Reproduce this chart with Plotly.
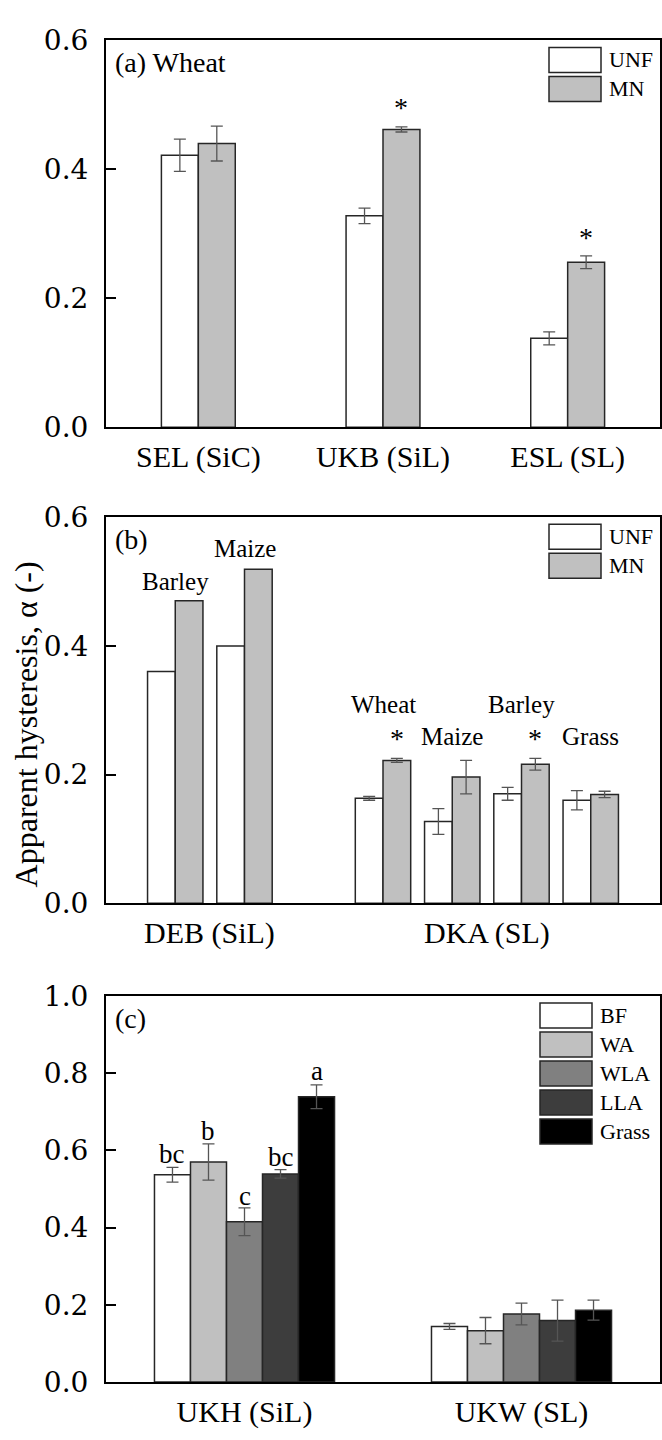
import plotly.graph_objects as go

W, H = 662, 1440

# ---------------- data ----------------
# (a) Wheat
a_sites = ["SEL (SiC)", "UKB (SiL)", "ESL (SL)"]
a_unf = [0.422, 0.328, 0.138]
a_unf_err = [0.025, 0.012, 0.010]
a_mn = [0.440, 0.462, 0.256]
a_mn_err = [0.027, 0.004, 0.010]
a_star = ["", "*", "*"]
a_star_y = [0.0, 0.496, 0.294]

# (b)
b_site = ["DEB (SiL)", "DEB (SiL)", "DKA (SL)", "DKA (SL)", "DKA (SL)", "DKA (SL)"]
b_crop = ["Barley", "Maize", "Wheat", "Maize", "Barley", "Grass"]
b_unf = [0.360, 0.400, 0.163, 0.127, 0.170, 0.160]
b_unf_err = [None, None, 0.003, 0.020, 0.010, 0.015]
b_mn = [0.470, 0.519, 0.222, 0.196, 0.216, 0.169]
b_mn_err = [None, None, 0.003, 0.026, 0.009, 0.005]
b_crop_y = [0.500, 0.551, 0.309, 0.259, 0.309, 0.259]
b_star = ["", "", "*", "", "*", ""]
b_star_y = [0.0, 0.0, 0.256, 0.0, 0.256, 0.0]

# (c)
c_sites = ["UKH (SiL)", "UKW (SL)"]
c_treat = ["BF", "WA", "WLA", "LLA", "Grass"]
c_bf = [0.537, 0.144]
c_bf_err = [0.019, 0.0075]
c_wa = [0.570, 0.133]
c_wa_err = [0.047, 0.034]
c_wla = [0.415, 0.176]
c_wla_err = [0.036, 0.028]
c_lla = [0.539, 0.159]
c_lla_err = [0.011, 0.053]
c_grass = [0.739, 0.186]
c_grass_err = [0.031, 0.026]
c_letters = ["bc", "b", "c", "bc", "a"]
c_letter_y = [0.591, 0.651, 0.482, 0.584, 0.805]

# ---------------- styles ----------------
SERIF = "Liberation Serif"
TICKFONT = dict(family="DejaVu Serif", size=28, color="black")
LINE = "#262626"
ERRC = "#555555"
fert_colors = ["#ffffff", "#c0c0c0"]
fert_names = ["UNF", "MN"]
treat_colors = ["#ffffff", "#c0c0c0", "#808080", "#3d3d3d", "#000000"]

X0, X1 = 106 / W, 660 / W
panel_px = {"a": (25, 421), "b": (513, 908), "c": (1003, 1398)}


def ydom(p):
    t, b = panel_px[p]
    return [1 - b / H, 1 - t / H]


def err(arr):
    return dict(type="data", array=arr, visible=True, color=ERRC,
                thickness=1.3, width=6)


fig = go.Figure()
annotations = []
shapes = []

# ---- panel (a) ----
wa = 0.2
for k, (vals, errs) in enumerate([(a_unf, a_unf_err), (a_mn, a_mn_err)]):
    fig.add_trace(go.Bar(
        x=a_sites, y=vals, error_y=err(errs), width=wa, offset=-wa + k * wa,
        marker=dict(color=fert_colors[k], line=dict(color=LINE, width=1.5)),
        name=fert_names[k], showlegend=False, xaxis="x", yaxis="y"))
for i, s in enumerate(a_star):
    if s:
        annotations.append(dict(x=i + wa / 2, y=a_star_y[i], xref="x", yref="y",
                                text=s, showarrow=False, yanchor="middle",
                                font=dict(family=SERIF, size=28)))

# ---- panel (b) ----
slots, slot_idx, prev = [], [], None
for s, c in zip(b_site, b_crop):
    if prev is not None and s != prev:
        slots.append(" ")
    slots.append(s + "|" + c)
    slot_idx.append(len(slots) - 1)
    prev = s
wb = 0.4
for site in dict.fromkeys(b_site):
    idx = [i for i, s in enumerate(b_site) if s == site]
    xs = [slots[slot_idx[i]] for i in idx]
    for k, (vals, errs) in enumerate([(b_unf, b_unf_err), (b_mn, b_mn_err)]):
        e = [errs[i] for i in idx]
        tr = dict(x=xs, y=[vals[i] for i in idx], width=wb, offset=-wb + k * wb,
                  marker=dict(color=fert_colors[k], line=dict(color=LINE, width=1.5)),
                  name=fert_names[k], showlegend=False, xaxis="x2", yaxis="y2")
        if all(v is not None for v in e):
            tr["error_y"] = err(e)
        fig.add_trace(go.Bar(**tr))
    annotations.append(dict(x=sum(slot_idx[i] for i in idx) / len(idx), y=0,
                            xref="x2", yref="y2 domain", yshift=-30,
                            text=site, showarrow=False, yanchor="middle",
                            font=dict(family=SERIF, size=30)))
for i, c in enumerate(b_crop):
    annotations.append(dict(x=slot_idx[i], y=b_crop_y[i], xref="x2", yref="y2",
                            text=c, showarrow=False, yanchor="middle",
                            font=dict(family=SERIF, size=25)))
    if b_star[i]:
        annotations.append(dict(x=slot_idx[i] + wb / 2, y=b_star_y[i], xref="x2",
                                yref="y2", text=b_star[i], showarrow=False,
                                yanchor="middle", font=dict(family=SERIF, size=28)))

# ---- panel (c) ----
wc = 0.13
c_series = [(c_bf, c_bf_err), (c_wa, c_wa_err), (c_wla, c_wla_err),
            (c_lla, c_lla_err), (c_grass, c_grass_err)]
n = len(c_series)
for k, (vals, errs) in enumerate(c_series):
    off = -n * wc / 2 + k * wc
    fig.add_trace(go.Bar(
        x=c_sites, y=vals, error_y=err(errs), width=wc, offset=off,
        marker=dict(color=treat_colors[k], line=dict(color=LINE, width=1.5)),
        name=c_treat[k], showlegend=False, xaxis="x3", yaxis="y3"))
    annotations.append(dict(x=off + wc / 2, y=c_letter_y[k], xref="x3", yref="y3",
                            text=c_letters[k], showarrow=False, yanchor="middle",
                            font=dict(family=SERIF, size=27)))

# ---- legends (drawn boxes) ----
def legend(ax, names, colors, box_left, box_right, text_x):
    for i, (nm, col) in enumerate(zip(names, colors)):
        top = -7 - i * 29
        shapes.append(dict(type="rect", xref=ax[0] + " domain", yref=ax[1] + " domain",
                           xsizemode="pixel", ysizemode="pixel", xanchor=1, yanchor=1,
                           x0=box_left, x1=box_right, y0=top, y1=top - 25,
                           fillcolor=col, line=dict(color=LINE, width=1.5), layer="above"))
        annotations.append(dict(x=1, y=1, xref=ax[0] + " domain", yref=ax[1] + " domain",
                                xshift=text_x, yshift=top - 12.5, xanchor="left",
                                yanchor="middle", text=nm, showarrow=False,
                                font=dict(family=SERIF, size=22)))


legend(("x", "y"), fert_names, fert_colors, -111, -59, -53)
legend(("x2", "y2"), fert_names, fert_colors, -111, -59, -53)
legend(("x3", "y3"), c_treat, treat_colors, -120, -68, -62)

# panel tags
for ax, tag in [(("x", "y"), "(a) Wheat"), (("x2", "y2"), "(b)"), (("x3", "y3"), "(c)")]:
    annotations.append(dict(x=0, y=1, xref=ax[0] + " domain", yref=ax[1] + " domain",
                            xshift=7, yshift=-22, xanchor="left", yanchor="middle",
                            text=tag, showarrow=False, font=dict(family=SERIF, size=28)))

# y title
annotations.append(dict(x=26 / W, y=1 - 725 / H, xref="paper", yref="paper",
                        text="Apparent hysteresis, α (-)", textangle=-90,
                        showarrow=False, xanchor="center", yanchor="middle",
                        font=dict(family=SERIF, size=32)))

frame = dict(showline=True, mirror=True, linecolor="black", linewidth=2,
             showgrid=False, zeroline=False, fixedrange=True)


def xaxis(anchor, rng, show=True, cats=None):
    d = dict(frame, domain=[X0, X1], anchor=anchor, range=rng, ticks="",
             showticklabels=show, type="category",
             tickfont=dict(family=SERIF, size=30, color="black"),
             ticklabelstandoff=2)
    if cats is not None:
        d["categoryorder"] = "array"
        d["categoryarray"] = cats
    return d


def yaxis(anchor, p, top):
    return dict(frame, domain=ydom(p), anchor=anchor, range=[0, top], dtick=0.2,
                tick0=0, tickformat=".1f", ticks="inside", ticklen=10, tickwidth=2,
                tickcolor="black", tickfont=TICKFONT, ticklabelstandoff=10)


fig.update_layout(
    width=W, height=H, margin=dict(l=0, r=0, t=0, b=0),
    paper_bgcolor="white", plot_bgcolor="white",
    barmode="overlay", showlegend=False,
    font=dict(family=SERIF, color="black"),
    xaxis=xaxis("y", [-0.5, len(a_sites) - 0.5], cats=a_sites),
    yaxis=yaxis("x", "a", 0.6),
    xaxis2=xaxis("y2", [-1, len(slots)], show=False, cats=slots),
    yaxis2=yaxis("x2", "b", 0.6),
    xaxis3=xaxis("y3", [-0.5, len(c_sites) - 0.5], cats=c_sites),
    yaxis3=yaxis("x3", "c", 1.0),
    annotations=annotations, shapes=shapes,
)

fig.write_html(
    "out.html",
    config={"displayModeBar": False},
    post_script="document.body.style.margin='0';document.body.style.overflow='hidden';",
)
